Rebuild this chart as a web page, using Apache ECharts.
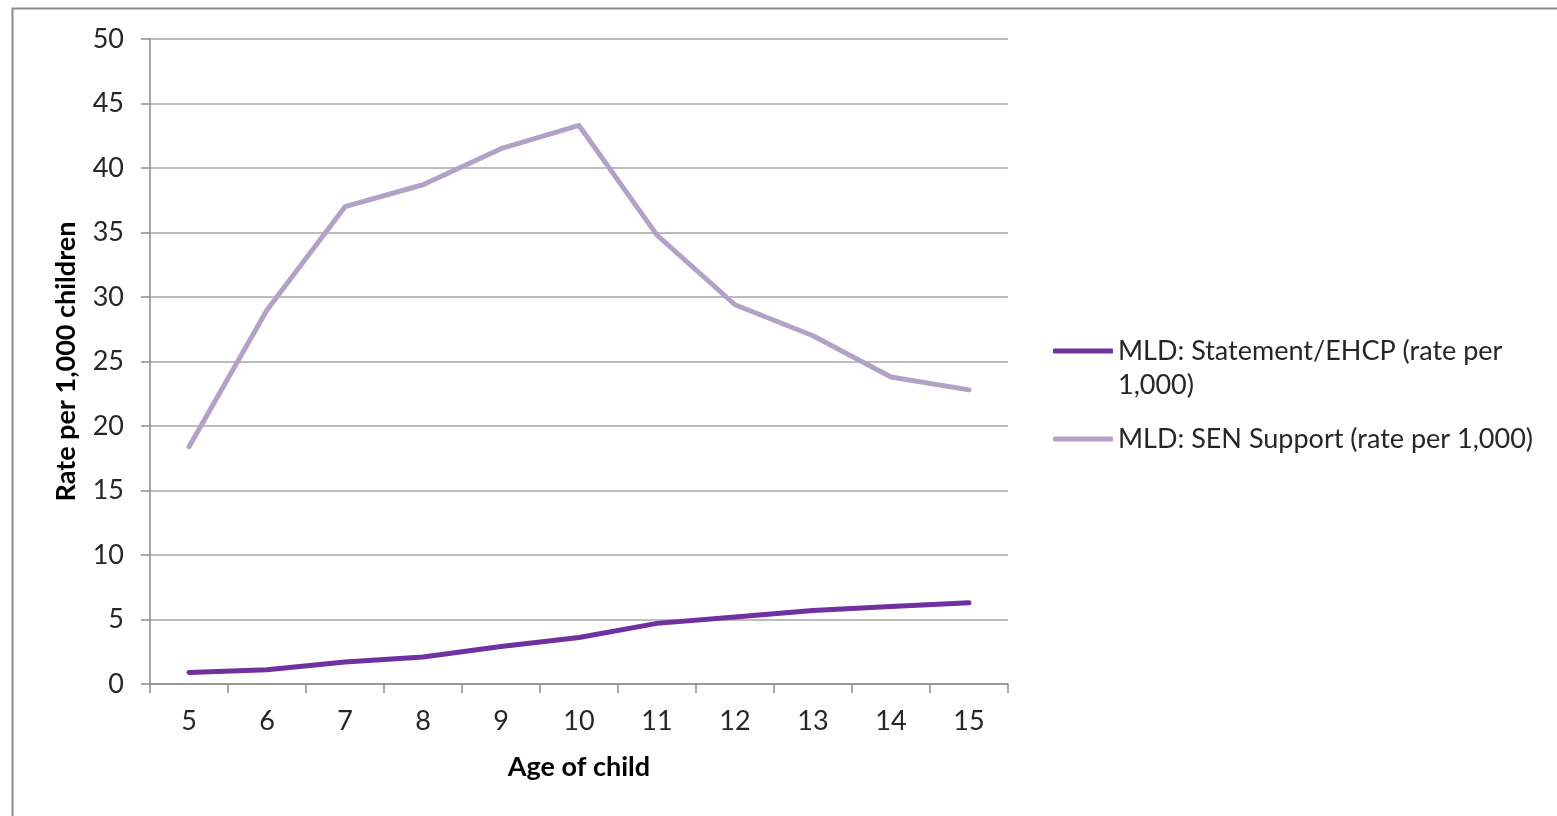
<!DOCTYPE html>
<html>
<head>
<meta charset="utf-8">
<script src="https://cdn.jsdelivr.net/npm/echarts@6/dist/echarts.min.js"></script>
<style>
  html, body { margin: 0; padding: 0; background: #ffffff; }
  #chart { width: 1557px; height: 816px; }
</style>
</head>
<body>
<div id="chart"></div>
<script>
// Ages of children (category axis)
const ages = ['5', '6', '7', '8', '9', '10', '11', '12', '13', '14', '15'];

// MLD rates per 1,000 children
const statementEhcp = [0.9, 1.1, 1.7, 2.1, 2.9, 3.6, 4.7, 5.2, 5.7, 6.0, 6.3];
const senSupport = [18.4, 29.0, 37.0, 38.7, 41.5, 43.3, 34.8, 29.4, 27.0, 23.8, 22.8];

const seriesNames = ['MLD: Statement/EHCP (rate per 1,000)', 'MLD: SEN Support (rate per 1,000)'];
const seriesColors = ['#7030a0', '#b3a2c7'];

const FONT = 'Lato';
const FONT_SIZE = 27;
const TEXT = '#262626';
const GRID_COLOR = '#a6a6a6';
const AXIS_COLOR = '#8c8c8c';

const chart = echarts.init(document.getElementById('chart'), null, { renderer: 'canvas' });

const legendBase = {
  orient: 'vertical',
  left: 1053,
  padding: 0,
  itemWidth: 60,
  itemHeight: 5,
  icon: 'roundRect',
  selectedMode: false,
  textStyle: { fontFamily: FONT, fontSize: FONT_SIZE, color: TEXT, lineHeight: 34 }
};

chart.setOption({
  animation: false,
  backgroundColor: '#ffffff',
  graphic: [{
    type: 'rect',
    left: 10,
    top: 6,
    shape: { width: 1700, height: 900 },
    style: { fill: 'none', stroke: '#8c8c8c', lineWidth: 2 },
    silent: true
  }],
  grid: { left: 150, right: 549, top: 39, bottom: 132 },
  legend: [
    Object.assign({}, legendBase, {
      top: 300,
      data: [seriesNames[0]],
      // first line aligned with the swatch, remainder wraps below
      formatter: () => ' \nMLD: Statement/EHCP (rate per\n1,000)'
    }),
    Object.assign({}, legendBase, {
      top: 422,
      data: [seriesNames[1]]
    })
  ],
  xAxis: {
    type: 'category',
    data: ages,
    boundaryGap: true,
    name: 'Age of child',
    nameLocation: 'middle',
    nameGap: 70,
    nameTextStyle: { fontFamily: FONT, fontSize: FONT_SIZE, fontWeight: 'bold', color: '#000000' },
    axisLine: { lineStyle: { color: AXIS_COLOR, width: 1.5 } },
    axisTick: { show: true, length: 9, lineStyle: { color: AXIS_COLOR, width: 1.5 } },
    axisLabel: { fontFamily: FONT, fontSize: FONT_SIZE, color: TEXT, margin: 24 },
    splitLine: { show: false }
  },
  yAxis: {
    type: 'value',
    min: 0,
    max: 50,
    interval: 5,
    name: 'Rate per 1,000 children',
    nameLocation: 'middle',
    nameGap: 70,
    nameTextStyle: { fontFamily: FONT, fontSize: FONT_SIZE, fontWeight: 'bold', color: '#000000' },
    axisLine: { show: true, lineStyle: { color: AXIS_COLOR, width: 1.5 } },
    axisTick: { show: true, length: 9, lineStyle: { color: AXIS_COLOR, width: 1.5 } },
    axisLabel: { fontFamily: FONT, fontSize: FONT_SIZE, color: TEXT, margin: 26 },
    splitLine: { show: true, lineStyle: { color: GRID_COLOR, width: 1.5 } }
  },
  series: [
    {
      name: seriesNames[0],
      type: 'line',
      data: statementEhcp,
      color: seriesColors[0],
      symbol: 'none',
      lineStyle: { width: 5, color: seriesColors[0], cap: 'round', join: 'round' }
    },
    {
      name: seriesNames[1],
      type: 'line',
      data: senSupport,
      color: seriesColors[1],
      symbol: 'none',
      lineStyle: { width: 5, color: seriesColors[1], cap: 'round', join: 'round' }
    }
  ]
});
</script>
</body>
</html>
